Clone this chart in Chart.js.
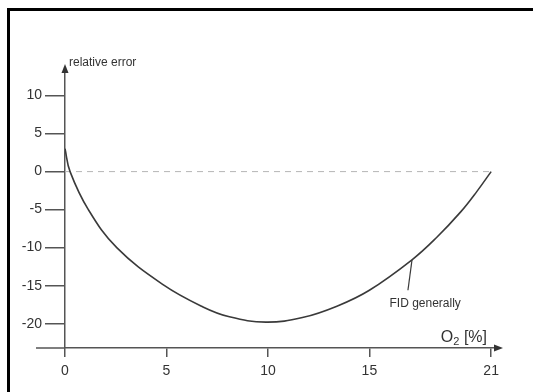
<!DOCTYPE html>
<html>
<head>
<meta charset="utf-8">
<script src="https://cdn.jsdelivr.net/npm/chart.js@4"></script>
<style>
  html, body { margin: 0; padding: 0; background: #fff; }
  #wrap { position: relative; width: 533px; height: 392px; overflow: hidden; }
  #chart { position: absolute; left: 0; top: 0; }
  #frame { position: absolute; left: 7px; top: 8px; right: -10px; bottom: -10px;
           border-top: 3px solid #000; border-left: 3px solid #000; pointer-events: none; }
</style>
</head>
<body>
<div id="wrap">
  <canvas id="chart" width="533" height="392"></canvas>
  <div id="frame"></div>
</div>
<script>
// O2 content [%] vs relative error of the FID
const o2 = [0, 0.25, 1.15, 2.55, 4.85, 6.8, 8.1, 9.9, 11.7, 13.4, 15, 17.1, 18.3, 19.5, 20.3, 21];
const relError = [3, 0, -5, -10, -14.9, -17.8, -19.1, -19.8, -19.2, -17.7, -15.6, -11.6, -8.7, -5.3, -2.6, 0];
const xTicks = [0, 5, 10, 15, 21];
const yTicks = [-20, -15, -10, -5, 0, 5, 10];
const zeroX = [0, 21];
const zeroY = [0, 0];
const leaderX = [17.1, 16.9];
const leaderY = [-11.6, -15.6];
const curveLabel = 'FID generally';
const curveLabelAt = [17.75, -17.4];
const yTitle = 'relative error';

const axisColor = '#555';
const font = "'Liberation Sans', Arial, sans-serif";

const decor = {
  id: 'decor',
  afterDraw(chart) {
    const { ctx, chartArea: a, scales: { x, y } } = chart;
    const x0 = x.getPixelForValue(0);
    ctx.save();
    ctx.strokeStyle = axisColor;
    ctx.fillStyle = '#333';
    ctx.lineWidth = 1.5;
    // x axis continues a bit to the left of the origin
    ctx.beginPath();
    ctx.moveTo(a.left - 29, a.bottom);
    ctx.lineTo(a.left, a.bottom);
    ctx.stroke();
    // arrow heads
    ctx.beginPath();
    ctx.moveTo(x0 - 3.5, a.top + 1);
    ctx.lineTo(x0 + 3.5, a.top + 1);
    ctx.lineTo(x0, a.top - 8);
    ctx.closePath();
    ctx.fill();
    ctx.beginPath();
    ctx.moveTo(a.right - 1, a.bottom - 3.5);
    ctx.lineTo(a.right - 1, a.bottom + 3.5);
    ctx.lineTo(a.right + 8, a.bottom);
    ctx.closePath();
    ctx.fill();

    // axis titles
    ctx.fillStyle = '#333';
    ctx.textBaseline = 'alphabetic';
    ctx.textAlign = 'left';
    ctx.font = '12px ' + font;
    ctx.fillText(yTitle, x0 + 4, a.top - 6);

    ctx.font = '16px ' + font;
    const wO = ctx.measureText('O').width;
    ctx.font = '11px ' + font;
    const w2 = ctx.measureText('2').width;
    ctx.font = '16px ' + font;
    const wRest = ctx.measureText(' [%]').width;
    const tx = a.right - 8 - (wO + w2 + wRest);
    const ty = a.bottom - 6;
    ctx.fillText('O', tx, ty);
    ctx.font = '11px ' + font;
    ctx.fillText('2', tx + wO, ty + 3);
    ctx.font = '16px ' + font;
    ctx.fillText(' [%]', tx + wO + w2, ty);

    // curve label
    ctx.font = '12px ' + font;
    ctx.textAlign = 'center';
    ctx.textBaseline = 'middle';
    ctx.fillText(curveLabel, x.getPixelForValue(curveLabelAt[0]), y.getPixelForValue(curveLabelAt[1]));
    ctx.restore();
  }
};

new Chart(document.getElementById('chart').getContext('2d'), {
  type: 'line',
  data: {
    datasets: [
      {
        data: o2.map((v, i) => ({ x: v, y: relError[i] })),
        borderColor: '#3a3a3a',
        borderWidth: 1.6,
        pointRadius: 0,
        tension: 0.4
      },
      {
        data: zeroX.map((v, i) => ({ x: v, y: zeroY[i] })),
        borderColor: '#b5b5b5',
        borderWidth: 1,
        borderDash: [6, 5],
        pointRadius: 0
      },
      {
        data: leaderX.map((v, i) => ({ x: v, y: leaderY[i] })),
        borderColor: '#3a3a3a',
        borderWidth: 1.2,
        pointRadius: 0
      }
    ]
  },
  options: {
    responsive: false,
    animation: false,
    layout: { padding: { left: 0, right: 38, top: 72, bottom: 0 } },
    plugins: { legend: { display: false }, tooltip: { enabled: false } },
    scales: {
      x: {
        type: 'linear',
        min: 0,
        max: 21.19,
        afterBuildTicks: s => { s.ticks = xTicks.map(v => ({ value: v })); },
        afterFit: s => { s.height = 44; },
        grid: { drawOnChartArea: false, color: axisColor, lineWidth: 1.5, tickLength: 9 },
        border: { color: axisColor, width: 1.5 },
        ticks: { color: '#333', font: { family: font, size: 14 }, padding: 6, maxRotation: 0 }
      },
      y: {
        min: -23.2,
        max: 13.1,
        afterBuildTicks: s => { s.ticks = yTicks.map(v => ({ value: v })); },
        afterFit: s => { s.width = 65; },
        grid: { drawOnChartArea: false, color: axisColor, lineWidth: 1.5, tickLength: 20 },
        border: { color: axisColor, width: 1.5 },
        ticks: { color: '#333', font: { family: font, size: 14 }, padding: 3 }
      }
    }
  },
  plugins: [decor]
});
</script>
</body>
</html>
